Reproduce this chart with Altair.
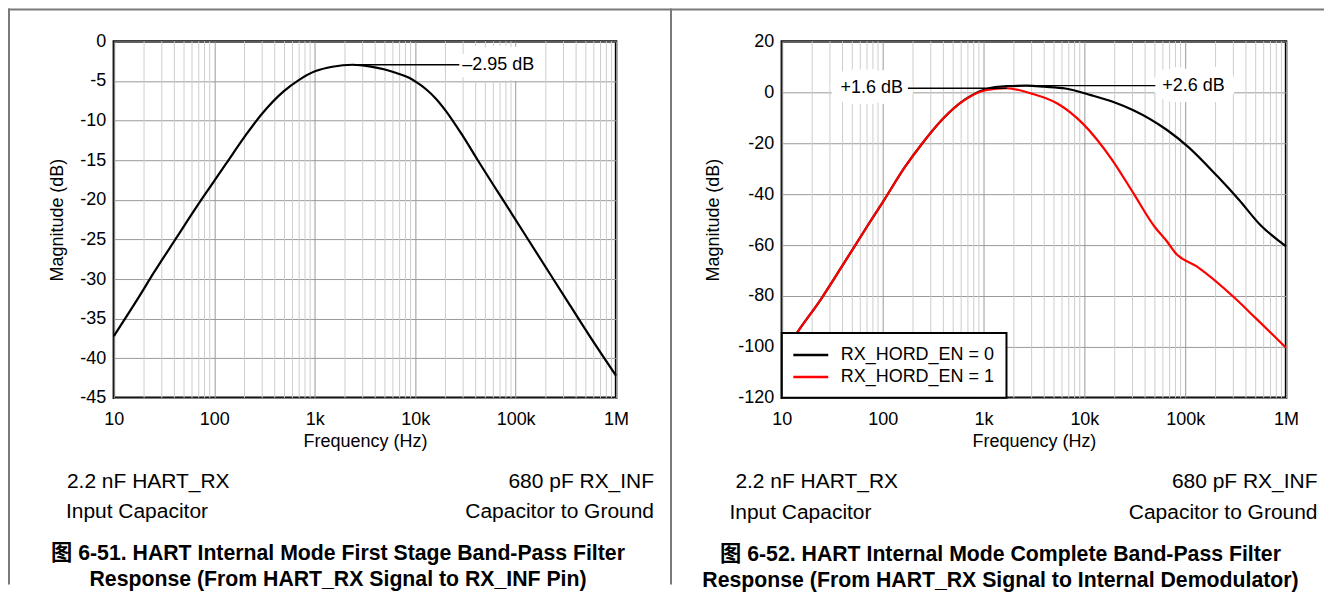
import altair as alt
import pandas as pd

FONT = "Liberation Sans, Arial, Helvetica, sans-serif"
CJK = "Liberation Sans, Arial, Noto Sans CJK SC, sans-serif"

# ---------------- data ----------------
# Fig 6-51: first stage band-pass
P1_FREQ = [10, 16.9, 25, 40, 77, 100, 130, 204, 300, 490, 700, 1020, 1500, 2400,
           3500, 5000, 6500, 8700, 11000, 13000, 16000, 20000, 30000, 42000, 92000,
           221000, 347000, 600000, 1000000]
P1_DB = [-37.2, -32.7, -29.2, -25.2, -19.7, -17.6, -15.5, -11.9, -9.1, -6.3, -4.85, -3.75, -3.2, -2.95,
         -3.15, -3.55, -4.0, -4.6, -5.4, -6.1, -7.2, -8.7, -12.0, -15.0, -21.8,
         -29.4, -33.3, -38.0, -42.2]

# Fig 6-52: complete band-pass
P2_FREQ_0 = [10, 14.2, 24.3, 40, 70, 100, 167, 250, 398, 646, 1050, 1700, 2700, 4000,
             6500, 11600, 20000, 30600, 66000, 107000, 210000, 341000, 553000, 1000000]
P2_DB_0 = [-104, -94.4, -81.4, -68.0, -52.7, -43.2, -29.2, -19.8, -10.3, -3.0, 1.2, 2.4, 2.6, 2.2,
           1.5, -1.1, -4.0, -7.0, -14.8, -21.4, -33.1, -42.2, -52.0, -60.5]
P2_FREQ_1 = [10, 14.2, 24.3, 40, 70, 100, 167, 250, 398, 646, 1050, 1700, 3000, 5400,
             9600, 18900, 30600, 49500, 66000, 80000, 130000, 310000, 500000, 1000000]
P2_DB_1 = [-104, -94.4, -81.4, -68.0, -52.7, -43.2, -29.2, -19.8, -10.3, -3.1, 0.8, 1.6, -0.5, -4.4,
           -12.2, -26.6, -39.6, -52.7, -58.6, -63.1, -68.4, -80.8, -88.7, -100.3]
SERIES = ["RX_HORD_EN = 0", "RX_HORD_EN = 1"]
SERIES_COLORS = ["#000000", "#ff0000"]

# annotations: label, dB level, leader start freq, leader end freq (label anchor)
ANN1 = {"label": ["\u20132.95 dB"], "db": [-2.95], "f0": [2400], "f1": [27500]}
ANN2 = {"label": ["+1.6 dB"], "db": [1.6], "f0": [1700], "f1": [178]}
ANN3 = {"label": ["+2.6 dB"], "db": [2.6], "f0": [2700], "f1": [50600]}

# axes
X_TICKS = [10, 100, 1000, 10000, 100000, 1000000]
X_TICK_LABELS = ["10", "100", "1k", "10k", "100k", "1M"]
X_MINOR = [20, 30, 40, 50, 60, 70, 80, 90,
           200, 300, 400, 500, 600, 700, 800, 900,
           2000, 3000, 4000, 5000, 6000, 7000, 8000, 9000,
           20000, 30000, 40000, 50000, 60000, 70000, 80000, 90000,
           200000, 300000, 400000, 500000, 600000, 700000, 800000, 900000]
Y1_TICKS = [-45, -40, -35, -30, -25, -20, -15, -10, -5, 0]
Y2_TICKS = [-120, -100, -80, -60, -40, -20, 0, 20]

P1_TEXT = ["2.2 nF HART_RX", "Input Capacitor", "680 pF RX_INF", "Capacitor to Ground"]
P1_CAPTION = ["图 6-51. HART Internal Mode First Stage Band-Pass Filter",
              "Response (From HART_RX Signal to RX_INF Pin)"]
P2_TEXT = ["2.2 nF HART_RX", "Input Capacitor", "680 pF RX_INF", "Capacitor to Ground"]
P2_CAPTION = ["图 6-52. HART Internal Mode Complete Band-Pass Filter",
              "Response (From HART_RX Signal to Internal Demodulator)"]

# ---------------- helpers ----------------
XSCALE = alt.Scale(type="log", domain=[10, 1000000], nice=False)
LABEL_EXPR = "[" + ",".join("'%s'" % s for s in X_TICK_LABELS) + "][indexof([" + \
    ",".join(str(v) for v in X_TICKS) + "], datum.value)]"

GRID_MAJOR = "#9a9a9a"
GRID_MINOR = "#cdcdcd"
FRAME = "#7a7a7a"


def x_axis():
    return alt.Axis(values=X_TICKS, labelExpr=LABEL_EXPR, title="Frequency (Hz)",
                    titleY=44, titleBaseline="middle", ticks=False, domain=False,
                    grid=True, gridColor=GRID_MAJOR, gridWidth=1, labelPadding=13,
                    labelFlush=False, labelOverlap=False, labelBound=False,
                    labelFontSize=18, titleFontSize=18, titleFontWeight="normal",
                    labelColor="black", titleColor="black", labelFont=FONT, titleFont=FONT)


def y_axis(ticks, title_x):
    return alt.Axis(values=ticks, labelExpr="'' + datum.value", title="Magnitude (dB)",
                    titleX=title_x, titleBaseline="middle", ticks=False, domain=False,
                    grid=True, gridColor=GRID_MAJOR, gridWidth=1, labelPadding=8,
                    labelOverlap=False, labelBound=False, labelFlush=False,
                    labelFontSize=18, titleFontSize=18, titleFontWeight="normal",
                    labelColor="black", titleColor="black", labelFont=FONT, titleFont=FONT)


def one(**kw):
    return pd.DataFrame({k: [v] for k, v in kw.items()})


def text_at(txt, x, y, align, size=21, weight="normal", font=FONT):
    return alt.Chart(one(t=txt)).mark_text(
        align=align, baseline="alphabetic", fontSize=size, fontWeight=weight,
        font=font, color="black").encode(text="t:N", x=alt.value(x), y=alt.value(y))


def frame_bar(x1, x2, y1, y2):
    # thin filled bar used for the outer gray frame lines
    return alt.Chart(one(k=0)).mark_rect(color=FRAME, strokeWidth=0).encode(
        x=alt.value(x1), x2=alt.value(x2), y=alt.value(y1), y2=alt.value(y2))


def minor_grid(xax):
    return alt.Chart(pd.DataFrame({"f": X_MINOR})).mark_rule(
        color=GRID_MINOR, strokeWidth=1).encode(x=alt.X("f:Q", scale=XSCALE, axis=xax))


def annotation(ann, yscale, xax, yax, align, dx):
    df = pd.DataFrame(ann)
    halo = alt.Chart(df).mark_text(
        align=align, baseline="middle", dx=dx, fontSize=18, font=FONT,
        color="white", stroke="white", strokeWidth=22, strokeJoin="round").encode(
        x=alt.X("f1:Q", scale=XSCALE, axis=xax), y=alt.Y("db:Q", scale=yscale, axis=yax),
        text="label:N")
    leader = alt.Chart(df).mark_rule(color="black", strokeWidth=1.3).encode(
        x=alt.X("f0:Q", scale=XSCALE, axis=xax), x2="f1:Q",
        y=alt.Y("db:Q", scale=yscale, axis=yax))
    label = alt.Chart(df).mark_text(
        align=align, baseline="middle", dx=dx, fontSize=18, font=FONT, color="black").encode(
        x=alt.X("f1:Q", scale=XSCALE, axis=xax), y=alt.Y("db:Q", scale=yscale, axis=yax),
        text="label:N")
    return halo, leader, label


# ---------------- panel 1 ----------------
W1, H1 = 503, 357
Y1SCALE = alt.Scale(domain=[-45, 0], nice=False)
XAX1 = x_axis()
YAX1 = y_axis(Y1_TICKS, -56.5)
df1 = pd.DataFrame({"f": P1_FREQ, "db": P1_DB})
halo1, leader1, label1 = annotation(ANN1, Y1SCALE, XAX1, YAX1, "left", 3)
curve1 = alt.Chart(df1).mark_line(color="black", strokeWidth=2.2, interpolate="monotone").encode(
    x=alt.X("f:Q", scale=XSCALE, axis=XAX1),
    y=alt.Y("db:Q", scale=Y1SCALE, axis=YAX1))

panel1 = alt.layer(
    minor_grid(XAX1), halo1, curve1, leader1, label1,
    text_at(P1_TEXT[0], -47, 447, "left"),
    text_at(P1_TEXT[1], -48, 477, "left"),
    text_at(P1_TEXT[2], 541, 447, "right"),
    text_at(P1_TEXT[3], 541, 477, "right"),
    text_at(P1_CAPTION[0], 224.5, 519, "center", 21.3, "bold", CJK),
    text_at(P1_CAPTION[1], 224.5, 545, "center", 21.3, "bold", CJK),
    # outer frame: top line across the whole figure, left edge and separator
    frame_bar(-106, 1212, -33, -31),
    frame_bar(-106, -104, -33, 544),
    frame_bar(557, 559, -33, 544),
).properties(width=W1, height=H1)

# ---------------- panel 2 ----------------
W2, H2 = 505, 357
Y2SCALE = alt.Scale(domain=[-120, 20], nice=False)
XAX2 = x_axis()
YAX2 = y_axis(Y2_TICKS, -68)
df2 = pd.concat([
    pd.DataFrame({"f": P2_FREQ_0, "db": P2_DB_0, "s": SERIES[0]}),
    pd.DataFrame({"f": P2_FREQ_1, "db": P2_DB_1, "s": SERIES[1]}),
], ignore_index=True)
halo2, leader2, label2 = annotation(ANN2, Y2SCALE, XAX2, YAX2, "right", -5)
halo3, leader3, label3 = annotation(ANN3, Y2SCALE, XAX2, YAX2, "left", 7)
curve2 = alt.Chart(df2).mark_line(strokeWidth=2.2, interpolate="monotone").encode(
    x=alt.X("f:Q", scale=XSCALE, axis=XAX2),
    y=alt.Y("db:Q", scale=Y2SCALE, axis=YAX2),
    color=alt.Color("s:N", scale=alt.Scale(domain=SERIES, range=SERIES_COLORS),
                    legend=alt.Legend(title=None, orient="bottom-left", offset=0,
                                      fillColor="white", strokeColor="black", padding=12,
                                      symbolType="M-2,0H2", symbolSize=306,
                                      symbolOffset=7, symbolStrokeWidth=2.5,
                                      labelFontSize=18, labelFont=FONT,
                                      labelColor="black", labelOffset=20, rowPadding=3)),
    detail="s:N")

panel2 = alt.layer(
    minor_grid(XAX2), halo2, halo3, curve2, leader2, leader3, label2, label3,
    text_at(P2_TEXT[0], -46.5, 447.5, "left"),
    text_at(P2_TEXT[1], -52.5, 478, "left"),
    text_at(P2_TEXT[2], 536.5, 447.5, "right"),
    text_at(P2_TEXT[3], 536.5, 478, "right"),
    text_at(P2_CAPTION[0], 219, 520, "center", 21.3, "bold", CJK),
    text_at(P2_CAPTION[1], 219, 546, "center", 21.3, "bold", CJK),
).properties(width=W2, height=H2)

chart = alt.hconcat(panel1, panel2, spacing=166, bounds="flush").resolve_scale(
    color="independent").resolve_legend(color="independent").properties(
    padding={"left": -2, "top": -2, "right": 0, "bottom": 0}
).configure_view(stroke="black", strokeWidth=2.5).configure_legend(strokeWidth=2)

chart.save("out.html", embed_options={"renderer": "svg", "actions": False})
